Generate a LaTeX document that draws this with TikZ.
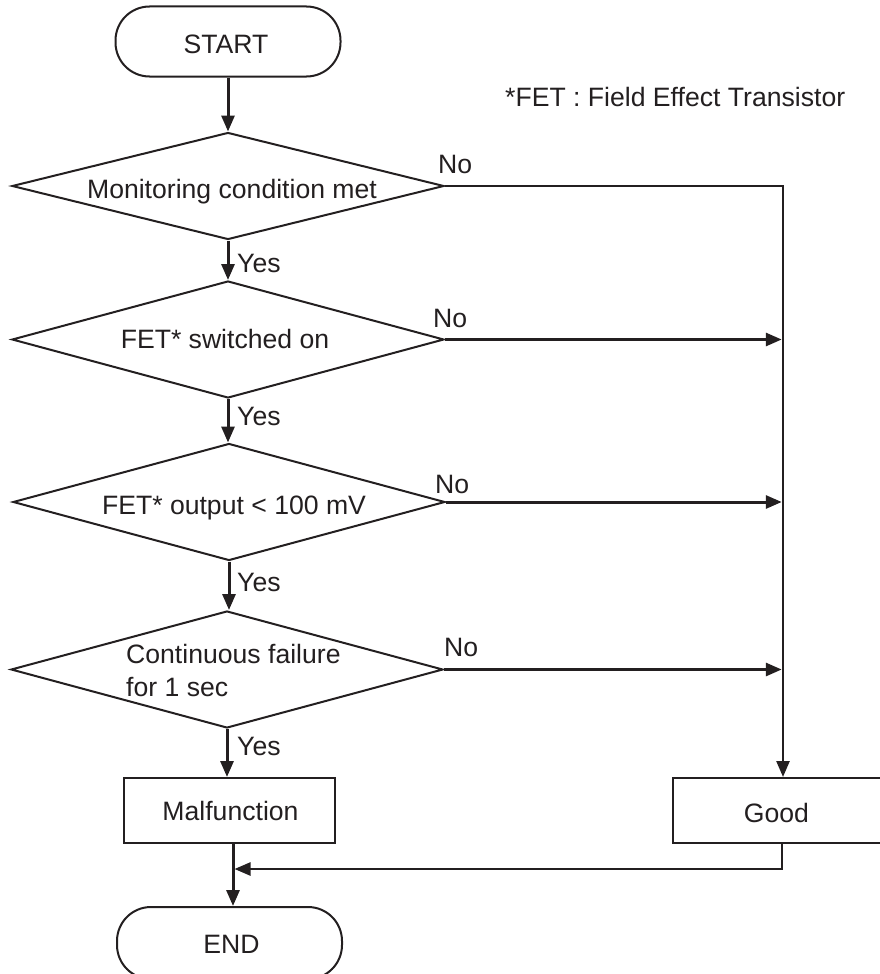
\documentclass[tikz,border=0pt]{standalone}
\usepackage{fontspec}
\setmainfont{Liberation Sans}
\usetikzlibrary{shapes.geometric,arrows.meta}
\definecolor{ink}{RGB}{35,31,32}
\begin{document}
\begin{tikzpicture}[x=1pt,y=-1pt,
  every node/.style={font=\fontsize{26.6}{33}\selectfont, text=ink},
  txt/.style={inner sep=0pt, anchor=base},
  lbl/.style={inner sep=0pt, anchor=base west},
  terminal/.style={draw=ink, line width=2pt, rectangle, rounded corners=34pt,
    minimum width=225pt, minimum height=70pt, inner sep=0pt},
  decision/.style={draw=ink, line width=2pt, diamond,
    minimum width=432pt, minimum height=117pt, inner sep=0pt},
  process/.style={draw=ink, line width=2pt, rectangle,
    minimum height=65pt, inner sep=0pt},
  tip/.style={-{Triangle[length=16pt,width=13pt]}},
  flow/.style={draw=ink, line width=3pt, tip},
  trunk/.style={draw=ink, line width=2.5pt},
]
\useasboundingbox (0,0) rectangle (880,974);

% shapes
\node[terminal] (start) at (228,41.5) {};
\node[decision, minimum height=107pt] (d1) at (228,186) {};
\node[decision] (d2) at (228,339.5) {};
\node[decision] (d3) at (229,502) {};
\node[decision] (d4) at (227,669.5) {};
\node[process, minimum width=211pt] (mal) at (229.5,810.5) {};
\node[process, minimum width=220pt] (good) at (783,810.5) {};
\node[terminal, minimum height=72pt] (end) at (229.5,943) {};

% texts
\node[txt] (tstart) at (226,54) {START};
\node[lbl] (note) at (505,106) {*FET : Field Effect Transistor};
\node[txt] (t1) at (232,198) {Monitoring condition met};
\node[txt] (t2) at (225,348) {FET* switched on};
\node[txt] (t3) at (234,514) {FET* output < 100 mV};
\node[lbl, align=left] (t4) at (126,696) {Continuous failure\\for 1 sec};
\node[txt] (tmal) at (230.5,820) {Malfunction};
\node[txt] (tgood) at (776.5,822) {Good};
\node[txt] (tend) at (231.5,953) {END};

% branch labels
\node[lbl] (y1) at (237,272) {Yes};
\node[lbl] (y2) at (237,425) {Yes};
\node[lbl] (y3) at (237,591) {Yes};
\node[lbl] (y4) at (237,755) {Yes};
\node[lbl] (n1) at (438,173) {No};
\node[lbl] (n2) at (433,327) {No};
\node[lbl] (n3) at (435,493) {No};
\node[lbl] (n4) at (444,656) {No};

% main "Yes" path
\draw[flow] (start.south) -- (start.south |- d1.north);
\draw[flow] (d1.south) -- (d1.south |- d2.north);
\draw[flow] (d2.south) -- (d2.south |- d3.north);
\draw[flow] (d3.south) -- (d3.south |- d4.north);
\draw[flow] (d4.south) -- (d4.south |- mal.north);

% "No" branches collecting into Good
\draw[trunk, tip] (d1.east) -| (good.north);
\draw[flow, shorten >=1.25pt] (d2.east) -- (d2.east -| good.north);
\draw[flow, shorten >=1.25pt] (d3.east) -- (d3.east -| good.north);
\draw[flow, shorten >=1.25pt] (d4.east) -- (d4.east -| good.north);

% both results join and go to END
\coordinate (j) at (233,869);
\draw[flow] (mal.south -| j) -- (end.north -| j);
\draw[trunk, tip, shorten >=1.5pt] (good.south -| 782,0) |- (j);
\end{tikzpicture}
\end{document}
